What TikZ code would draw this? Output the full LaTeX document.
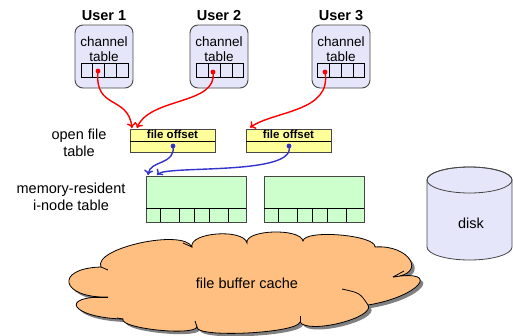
\documentclass[tikz,border=0pt]{standalone}
\usepackage{fontspec}
\setmainfont{Liberation Sans}
\usetikzlibrary{arrows.meta,calc}
\definecolor{userfill}{RGB}{230,230,250}
\definecolor{boxline}{RGB}{70,70,70}
\definecolor{offyellow}{RGB}{255,255,153}
\definecolor{inodegreen}{RGB}{204,255,204}
\definecolor{cloudorange}{RGB}{255,191,128}
\definecolor{shadowgray}{RGB}{128,128,128}
\definecolor{linkred}{RGB}{255,0,0}
\definecolor{linkblue}{RGB}{51,51,204}
\def\cloudpath{(101,-267)
 .. controls (92.3,-248.3) and (183.3,-228.3) .. (192,-247)
 .. controls (188.7,-232.3) and (243.7,-228.3) .. (247,-243)
 .. controls (244.3,-229.7) and (300.3,-227.7) .. (303,-241)
 .. controls (304.3,-229) and (376.3,-235) .. (375,-247)
 .. controls (409.7,-244.3) and (427.7,-274.3) .. (393,-277)
 .. controls (443,-269) and (418,-297) .. (368,-305)
 .. controls (376,-317.7) and (308,-334.7) .. (300,-322)
 .. controls (298,-333.3) and (195,-338.3) .. (197,-327)
 .. controls (193,-336.3) and (119,-328.3) .. (123,-319)
 .. controls (71.7,-317.7) and (56.7,-295.7) .. (108,-297)
 .. controls (60.7,-298.3) and (53.7,-268.3) .. (101,-267) -- cycle}
\begin{document}
\begin{tikzpicture}[x=1pt,y=1pt,
  userbox/.style={draw=boxline,fill=userfill,rounded corners=8pt,line width=0.9pt,minimum width=58pt,minimum height=63pt,inner sep=0pt},
  cellrow/.style={draw=black,fill=userfill,line width=0.6pt,minimum width=47pt,minimum height=14pt,inner sep=0pt},
  userlabel/.style={font=\bfseries\fontsize{14.5}{16}\selectfont,anchor=base},
  chantext/.style={font=\fontsize{13.5}{15}\selectfont,align=center,inner sep=0pt},
  sidetext/.style={font=\fontsize{14.5}{17.5}\selectfont,align=center,inner sep=0pt},
  ofbox/.style={draw=boxline,fill=offyellow,line width=0.8pt,minimum width=85pt,minimum height=23pt,inner sep=0pt},
  oftext/.style={font=\bfseries\fontsize{11.5}{12}\selectfont,anchor=base,inner sep=0pt},
  inodebox/.style={draw=boxline,fill=inodegreen,line width=0.8pt,minimum width=100pt,minimum height=46pt,inner sep=0pt},
  redlink/.style={draw=linkred,line width=1.4pt,-{To[length=5pt,width=9pt]}},
  bluelink/.style={draw=linkblue,line width=1.4pt,-{To[length=5pt,width=9pt]}},
  plaintext/.style={font=\fontsize{14.5}{17}\selectfont,inner sep=0pt}
]
\useasboundingbox (0,0) rectangle (513,-335);

% users
\foreach \n/\cx/\ccx in {1/104/104.5, 2/219/220, 3/341/341}{
  \node[userlabel] (ulab\n) at (\cx,-20.7) {User \n};
  \node[userbox] (user\n) at (\cx,-56.5) {};
  \node[chantext] (chan\n) at (\cx,-49.5) {channel\\table};
  \node[cellrow] (cells\n) at (\ccx,-70) {};
  \foreach \i in {1,2,3}{
    \draw[line width=0.6pt] ($(cells\n.south west)!\i/4!(cells\n.south east)$) -- ($(cells\n.north west)!\i/4!(cells\n.north east)$);
  }
}
\coordinate (dot1) at (98,-71);
\coordinate (dot2) at (213,-72);
\coordinate (dot3) at (325,-72);

% open file table
\node[sidetext] (oflabel) at (79,-143) {open file\\table};
\node[ofbox] (of1) at (172.5,-140.5) {};
\node[ofbox] (of2) at (288.5,-140.5) {};
\foreach \k in {1,2}{
  \draw[line width=0.8pt,draw=black] ([yshift=-0.5pt]of\k.west) -- ([yshift=-0.5pt]of\k.east);
}
\node[oftext] (oft1) at (172.5,-138.5) {file offset};
\node[oftext] (oft2) at (288.5,-138.5) {file offset};
\coordinate (bdot1) at (173,-146);
\coordinate (bdot2) at (289,-146);
\coordinate (r1end) at (132,-128);
\coordinate (r2end) at (137,-128);
\coordinate (r3end) at (250,-127.5);

% inode table
\node[sidetext] (inlabel) at (71,-197) {memory-resident\\i-node table};
\node[inodebox] (in1) at (196,-199) {};
\node[inodebox] (in2) at (314,-199) {};
\foreach \k in {1,2}{
  \draw[line width=0.7pt] ($(in\k.south west)+(0,14)$) -- ($(in\k.south east)+(0,14)$);
  \foreach \d in {15,33.5,48.5,63.5,82.5}{
    \draw[line width=0.7pt] ($(in\k.south west)+(\d,0)$) -- ($(in\k.south west)+(\d,14)$);
  }
}
\coordinate (b1end) at (148,-175);
\coordinate (b2end) at (157,-175);

% red links
\draw[redlink] (dot1) .. controls +(-4,-39) and +(-4,33) .. (r1end);
\draw[redlink] (dot2) .. controls +(5,-33) and +(13,31) .. (r2end);
\draw[redlink] (dot3) .. controls +(7,-40) and +(25,17) .. (r3end);
\foreach \p in {dot1,dot2,dot3}{\fill[linkred] (\p) circle[radius=2.4pt];}

% blue links
\draw[bluelink] (bdot1) .. controls +(3,-19) and +(2,15) .. (b1end);
\draw[bluelink] (bdot2) .. controls +(8,-30) and +(10,10) .. (b2end);
\foreach \p in {bdot1,bdot2}{\fill[linkblue] (\p) circle[radius=2.4pt];}

% disk
\path[draw=boxline,fill=userfill,line width=0.8pt] (427,-180) -- (427,-247)
  arc[start angle=180,end angle=360,x radius=42.5,y radius=13] -- (512,-180)
  arc[start angle=0,end angle=180,x radius=42.5,y radius=13] -- cycle;
\draw[draw=boxline,line width=0.8pt] (469.5,-180) ellipse[x radius=42.5,y radius=13];
\node[plaintext] (disk) at (471,-223) {disk};

% cloud
\fill[shadowgray,shift={(3,-3)}] \cloudpath;
\path[draw=black,fill=cloudorange,line width=0.8pt] \cloudpath;
\draw[line width=0.8pt] (101,-267) .. controls (104,-268) .. (108,-270);
\draw[line width=0.8pt] (183,-243) .. controls (188,-245) .. (192,-247);
\draw[line width=0.8pt] (393,-277) .. controls (398,-274) .. (404,-271);
\draw[line width=0.8pt] (368,-305) .. controls (360,-293) .. (342,-289);
\draw[line width=0.8pt] (300,-322) .. controls (300,-319) .. (300,-316);
\draw[line width=0.8pt] (197,-327) .. controls (196,-324) .. (195,-321);
\draw[line width=0.8pt] (123,-319) .. controls (120,-318) .. (117,-318);
\draw[line width=0.8pt] (108,-297) .. controls (100,-297) .. (93,-297);
\node[plaintext] (cache) at (247,-283) {file buffer cache};
\end{tikzpicture}
\end{document}
